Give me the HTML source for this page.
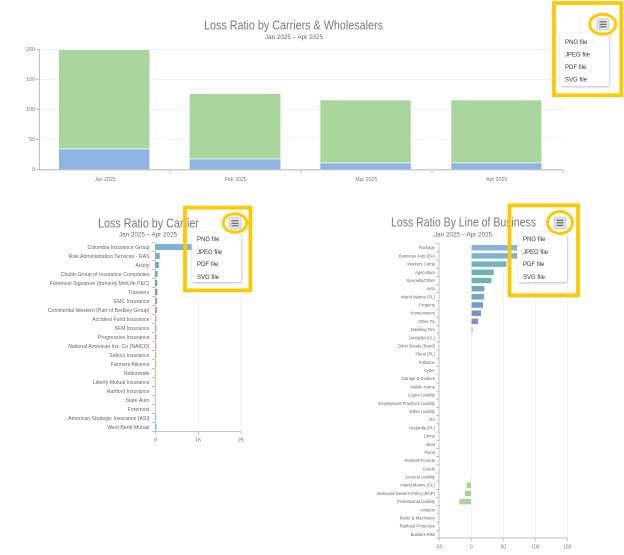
<!DOCTYPE html>
<html><head><meta charset="utf-8"><style>
html,body{margin:0;padding:0;background:#fff;}
svg{display:block;font-family:"Liberation Sans",sans-serif;}
</style></head><body>
<svg width="624" height="555" viewBox="0 0 624 555" xmlns="http://www.w3.org/2000/svg">
<rect width="624" height="555" fill="#fff"/>

<!-- ===== TOP CHART ===== -->
<text x="293.5" y="29.3" font-size="13" fill="#7a7a7a" text-anchor="middle" textLength="179" lengthAdjust="spacingAndGlyphs">Loss Ratio by Carriers &amp; Wholesalers</text>
<text x="294" y="39" font-size="6.5" fill="#666" text-anchor="middle" textLength="58" lengthAdjust="spacingAndGlyphs">Jan 2025 – Apr 2025</text>
<g stroke="#eeeeee" stroke-width="0.8">
<line x1="39" y1="49.3" x2="563" y2="49.3"/>
<line x1="39" y1="79.3" x2="563" y2="79.3"/>
<line x1="39" y1="109.3" x2="563" y2="109.3"/>
<line x1="39" y1="139.3" x2="563" y2="139.3"/>
</g>
<g font-size="5.3" fill="#777" text-anchor="end">
<text x="35" y="51.2">200</text>
<text x="35" y="81.2">150</text>
<text x="35" y="111.2">100</text>
<text x="35" y="141.2">50</text>
<text x="35" y="171.2">0</text>
</g>
<!-- bars -->
<g stroke="#fff" stroke-width="0.6">
<rect x="58.7" y="49.7" width="91" height="99.3" fill="#a9d69c"/>
<rect x="58.7" y="149" width="91" height="20.5" fill="#8db5e3"/>
<rect x="189.3" y="93.7" width="91.4" height="65.3" fill="#a9d69c"/>
<rect x="189.3" y="159" width="91.4" height="10.5" fill="#8db5e3"/>
<rect x="320" y="100" width="91" height="63" fill="#a9d69c"/>
<rect x="320" y="163" width="91" height="6.5" fill="#8db5e3"/>
<rect x="451" y="100" width="90.7" height="63" fill="#a9d69c"/>
<rect x="451" y="163" width="90.7" height="6.5" fill="#8db5e3"/>
</g>
<g stroke="#aaa" stroke-width="0.8">
<line x1="39.3" y1="49" x2="39.3" y2="169.6"/>
<line x1="36" y1="49.3" x2="39.3" y2="49.3"/>
<line x1="36" y1="79.3" x2="39.3" y2="79.3"/>
<line x1="36" y1="109.3" x2="39.3" y2="109.3"/>
<line x1="36" y1="139.3" x2="39.3" y2="139.3"/>
<line x1="36" y1="169.6" x2="39.3" y2="169.6"/>
<line x1="39" y1="169.8" x2="563" y2="169.8"/>
<line x1="170" y1="169.8" x2="170" y2="173"/>
<line x1="301" y1="169.8" x2="301" y2="173"/>
<line x1="432" y1="169.8" x2="432" y2="173"/>
<line x1="563" y1="169.8" x2="563" y2="173"/>
</g>
<g font-size="5.2" fill="#777" text-anchor="middle">
<text x="105" y="181">Jan 2025</text>
<text x="235.7" y="181">Feb 2025</text>
<text x="366.3" y="181">Mar 2025</text>
<text x="496.7" y="181">Apr 2025</text>
</g>

<!-- ===== BOTTOM LEFT CHART ===== -->
<text x="148.5" y="227.7" font-size="13" fill="#7a7a7a" text-anchor="middle" textLength="101" lengthAdjust="spacingAndGlyphs">Loss Ratio by Carrier</text>
<text x="148" y="236.6" font-size="6.5" fill="#666" text-anchor="middle" textLength="58" lengthAdjust="spacingAndGlyphs">Jan 2025 – Apr 2025</text>
<g stroke="#eeeeee" stroke-width="0.8">
<line x1="198.3" y1="242.5" x2="198.3" y2="431.7"/>
<line x1="241" y1="242.5" x2="241" y2="431.7"/>
</g>
<g font-size="5.2" fill="#666" text-anchor="end">
<text x="149.5" y="248.9">Columbia Insurance Group</text>
<text x="149.5" y="257.9">Risk Administration Services - RAS</text>
<text x="149.5" y="266.9">Acuity</text>
<text x="149.5" y="275.9">Chubb Group of Insurance Companies</text>
<text x="149.5" y="284.9">Foremost Signature (formerly MetLife P&amp;C)</text>
<text x="149.5" y="293.9">Travelers</text>
<text x="149.5" y="302.9">EMC Insurance</text>
<text x="149.5" y="311.9">Continental Western (Part of Berkley Group)</text>
<text x="149.5" y="320.9">Accident Fund Insurance</text>
<text x="149.5" y="329.9">SFM Insurance</text>
<text x="149.5" y="338.9">Progressive Insurance</text>
<text x="149.5" y="347.9">National American Ins. Co (NAICO)</text>
<text x="149.5" y="356.9">Safeco Insurance</text>
<text x="149.5" y="365.9">Farmers Alliance</text>
<text x="149.5" y="374.9">Nationwide</text>
<text x="149.5" y="383.9">Liberty Mutual Insurance</text>
<text x="149.5" y="392.9">Hartford Insurance</text>
<text x="149.5" y="401.9">State Auto</text>
<text x="149.5" y="410.9">Foremost</text>
<text x="149.5" y="419.9">American Strategic Insurance (ASI)</text>
<text x="149.5" y="428.9">West Bend Mutual</text>
</g>
<g>
<rect x="155.5" y="244" width="36" height="6" fill="#7db3d4"/>
<rect x="155.5" y="253" width="4.3" height="6" fill="#6cb8b6"/>
<rect x="155.5" y="262" width="3.3" height="6" fill="#6aaac6"/>
<rect x="155.5" y="271" width="2" height="6" fill="#6d9dd6"/>
<rect x="155.5" y="280" width="1.8" height="6" fill="#6f90da"/>
<rect x="155.5" y="289" width="1.8" height="6" fill="#7b88d8"/>
<rect x="155.5" y="298" width="1.6" height="6" fill="#a596d2"/>
<rect x="155.5" y="307" width="1.6" height="6" fill="#b592c8"/>
<rect x="155.5" y="316" width="1.4" height="6" fill="#e8bccd"/>
<rect x="155.5" y="325" width="1.4" height="6" fill="#f1bcc2"/>
<rect x="155.5" y="334" width="1.4" height="6" fill="#f2c0b6"/>
<rect x="155.5" y="343" width="1.4" height="6" fill="#f5cab2"/>
<rect x="155.5" y="352" width="1.3" height="6" fill="#f7d5b2"/>
<rect x="155.5" y="361" width="1.3" height="6" fill="#f7deb4"/>
<rect x="155.5" y="370" width="1.1" height="6" fill="#f5edcc"/>
<rect x="155.5" y="379" width="1.1" height="6" fill="#f3f0d4"/>
<rect x="155.5" y="388" width="0.6" height="6" fill="#e6efe0"/>
<rect x="155.5" y="397" width="0.6" height="6" fill="#dfeaf0"/>
<rect x="155.5" y="406" width="0.4" height="6" fill="#d8e6f0"/>
<rect x="155.5" y="415" width="1.1" height="6" fill="#c5dcee"/>
<rect x="155.5" y="424" width="1.3" height="6" fill="#a8c8ea"/>
</g>
<g stroke="#aaa" stroke-width="0.7">
<line x1="155.2" y1="242.5" x2="155.2" y2="431.7"/>
<line x1="152" y1="242.5" x2="155.2" y2="242.5"/><line x1="152" y1="251.5" x2="155.2" y2="251.5"/><line x1="152" y1="260.5" x2="155.2" y2="260.5"/><line x1="152" y1="269.5" x2="155.2" y2="269.5"/><line x1="152" y1="278.5" x2="155.2" y2="278.5"/><line x1="152" y1="287.5" x2="155.2" y2="287.5"/><line x1="152" y1="296.5" x2="155.2" y2="296.5"/><line x1="152" y1="305.5" x2="155.2" y2="305.5"/><line x1="152" y1="314.5" x2="155.2" y2="314.5"/><line x1="152" y1="323.5" x2="155.2" y2="323.5"/><line x1="152" y1="332.5" x2="155.2" y2="332.5"/><line x1="152" y1="341.5" x2="155.2" y2="341.5"/><line x1="152" y1="350.5" x2="155.2" y2="350.5"/><line x1="152" y1="359.5" x2="155.2" y2="359.5"/><line x1="152" y1="368.5" x2="155.2" y2="368.5"/><line x1="152" y1="377.5" x2="155.2" y2="377.5"/><line x1="152" y1="386.5" x2="155.2" y2="386.5"/><line x1="152" y1="395.5" x2="155.2" y2="395.5"/><line x1="152" y1="404.5" x2="155.2" y2="404.5"/><line x1="152" y1="413.5" x2="155.2" y2="413.5"/><line x1="152" y1="422.5" x2="155.2" y2="422.5"/><line x1="152" y1="431.5" x2="155.2" y2="431.5"/>
<line x1="155.2" y1="431.7" x2="241" y2="431.7"/>
<line x1="155.2" y1="431.7" x2="155.2" y2="434.5"/>
<line x1="198.3" y1="431.7" x2="198.3" y2="434.5"/>
<line x1="241" y1="431.7" x2="241" y2="434.5"/>
</g>
<g font-size="5.2" fill="#777" text-anchor="middle">
<text x="155.5" y="441.5">0</text>
<text x="198.3" y="441.5">1K</text>
<text x="241" y="441.5">2K</text>
</g>

<!-- ===== BOTTOM RIGHT CHART ===== -->
<text x="463.5" y="226.7" font-size="13" fill="#7a7a7a" text-anchor="middle" textLength="145" lengthAdjust="spacingAndGlyphs">Loss Ratio By Line of Business</text>
<text x="463" y="236.6" font-size="6.5" fill="#666" text-anchor="middle" textLength="58" lengthAdjust="spacingAndGlyphs">Jan 2025 – Apr 2025</text>
<g stroke="#eeeeee" stroke-width="0.8">
<line x1="471.3" y1="243.6" x2="471.3" y2="538"/>
<line x1="503.3" y1="243.6" x2="503.3" y2="538"/>
<line x1="535.3" y1="243.6" x2="535.3" y2="538"/>
<line x1="567.3" y1="243.6" x2="567.3" y2="538"/>
</g>
<g font-size="4.2" fill="#666" text-anchor="end">
<text x="435" y="249.2">Package</text>
<text x="435" y="257.4">Business Auto (BA)</text>
<text x="435" y="265.6">Workers Comp</text>
<text x="435" y="273.8">Agriculture</text>
<text x="435" y="282.0">Specialty/Other</text>
<text x="435" y="290.2">Auto</text>
<text x="435" y="298.3">Inland Marine (PL)</text>
<text x="435" y="306.5">Property</text>
<text x="435" y="314.7">Homeowners</text>
<text x="435" y="322.9">Other PL</text>
<text x="435" y="331.1">Dwelling Fire</text>
<text x="435" y="339.3">Umbrella (CL)</text>
<text x="435" y="347.5">Other Bonds (Bond)</text>
<text x="435" y="355.7">Flood (PL)</text>
<text x="435" y="363.9">Pollution</text>
<text x="435" y="372.1">Cyber</text>
<text x="435" y="380.2">Garage &amp; Dealers</text>
<text x="435" y="388.4">Mobile Home</text>
<text x="435" y="396.6">Liquor Liability</text>
<text x="435" y="404.8">Employment Practices Liability</text>
<text x="435" y="413.0">Other Liability</text>
<text x="435" y="421.2">RV</text>
<text x="435" y="429.4">Umbrella (PL)</text>
<text x="435" y="437.6">Crime</text>
<text x="435" y="445.8">Boat</text>
<text x="435" y="454.0">Flood</text>
<text x="435" y="462.1">Renters/Tenants</text>
<text x="435" y="470.3">Condo</text>
<text x="435" y="478.5">General Liability</text>
<text x="435" y="486.7">Inland Marine (CL)</text>
<text x="435" y="494.9">Business Owners Policy (BOP)</text>
<text x="435" y="503.1">Professional Liability</text>
<text x="435" y="511.3">Aviation</text>
<text x="435" y="519.5">Boiler &amp; Machinery</text>
<text x="435" y="527.7">Railroad Protective</text>
<text x="435" y="535.9">Builders Risk</text>
</g>
<g stroke="#fff" stroke-width="0.5">
<rect x="471.3" y="244.7" width="46" height="6" fill="#86b4dc"/>
<rect x="471.3" y="252.9" width="46" height="6" fill="#7eb3d5"/>
<rect x="471.3" y="261.1" width="35.4" height="6" fill="#70b2c2"/>
<rect x="471.3" y="269.3" width="22.7" height="6" fill="#69b2ae"/>
<rect x="471.3" y="277.5" width="20.4" height="6" fill="#70b0bc"/>
<rect x="471.3" y="285.7" width="13.4" height="6" fill="#6fa9c4"/>
<rect x="471.3" y="293.8" width="13" height="6" fill="#73a4ca"/>
<rect x="471.3" y="302" width="12" height="6" fill="#7499cc"/>
<rect x="471.3" y="310.2" width="10" height="6" fill="#7b90cd"/>
<rect x="471.3" y="318.4" width="7" height="6" fill="#7e8fd2"/>
<rect x="471.3" y="326.6" width="1.5" height="6" fill="#97a2de"/>
<rect x="470.2" y="474" width="1.1" height="6" fill="#d8e7aa"/>
<rect x="466.3" y="482.2" width="5" height="6" fill="#a9d490"/>
<rect x="464.7" y="490.4" width="6.6" height="6" fill="#a6d495"/>
<rect x="459" y="498.6" width="12.3" height="6" fill="#a7d69b"/>
</g>
<g stroke="#aaa" stroke-width="0.7">
<line x1="439" y1="243.6" x2="439" y2="538"/>
<line x1="436" y1="243.6" x2="439" y2="243.6"/><line x1="436" y1="251.8" x2="439" y2="251.8"/><line x1="436" y1="260" x2="439" y2="260"/><line x1="436" y1="268.2" x2="439" y2="268.2"/><line x1="436" y1="276.4" x2="439" y2="276.4"/><line x1="436" y1="284.6" x2="439" y2="284.6"/><line x1="436" y1="292.8" x2="439" y2="292.8"/><line x1="436" y1="301" x2="439" y2="301"/><line x1="436" y1="309.1" x2="439" y2="309.1"/><line x1="436" y1="317.3" x2="439" y2="317.3"/><line x1="436" y1="325.5" x2="439" y2="325.5"/><line x1="436" y1="333.7" x2="439" y2="333.7"/><line x1="436" y1="341.9" x2="439" y2="341.9"/><line x1="436" y1="350.1" x2="439" y2="350.1"/><line x1="436" y1="358.3" x2="439" y2="358.3"/><line x1="436" y1="366.5" x2="439" y2="366.5"/><line x1="436" y1="374.7" x2="439" y2="374.7"/><line x1="436" y1="382.9" x2="439" y2="382.9"/><line x1="436" y1="391" x2="439" y2="391"/><line x1="436" y1="399.2" x2="439" y2="399.2"/><line x1="436" y1="407.4" x2="439" y2="407.4"/><line x1="436" y1="415.6" x2="439" y2="415.6"/><line x1="436" y1="423.8" x2="439" y2="423.8"/><line x1="436" y1="432" x2="439" y2="432"/><line x1="436" y1="440.2" x2="439" y2="440.2"/><line x1="436" y1="448.4" x2="439" y2="448.4"/><line x1="436" y1="456.6" x2="439" y2="456.6"/><line x1="436" y1="464.8" x2="439" y2="464.8"/><line x1="436" y1="472.9" x2="439" y2="472.9"/><line x1="436" y1="481.1" x2="439" y2="481.1"/><line x1="436" y1="489.3" x2="439" y2="489.3"/><line x1="436" y1="497.5" x2="439" y2="497.5"/><line x1="436" y1="505.7" x2="439" y2="505.7"/><line x1="436" y1="513.9" x2="439" y2="513.9"/><line x1="436" y1="522.1" x2="439" y2="522.1"/><line x1="436" y1="530.3" x2="439" y2="530.3"/><line x1="436" y1="538" x2="439" y2="538"/>
<line x1="439" y1="538" x2="567.3" y2="538"/>
<line x1="439" y1="538" x2="439" y2="541"/>
<line x1="471.3" y1="538" x2="471.3" y2="541"/>
<line x1="503.3" y1="538" x2="503.3" y2="541"/>
<line x1="535.3" y1="538" x2="535.3" y2="541"/>
<line x1="567.3" y1="538" x2="567.3" y2="541"/>
</g>
<g font-size="5" fill="#777" text-anchor="middle">
<text x="439" y="548.5">-50</text>
<text x="471.3" y="548.5">0</text>
<text x="503.3" y="548.5">50</text>
<text x="535.3" y="548.5">100</text>
<text x="567.3" y="548.5">150</text>
</g>

<!-- ===== MENUS & HIGHLIGHTS ===== -->
<defs>
<filter id="sh" x="-20%" y="-20%" width="140%" height="140%">
<feDropShadow dx="0.5" dy="1" stdDeviation="1.2" flood-color="#000" flood-opacity="0.25"/>
</filter>
</defs>

<!-- top -->
<rect x="560" y="33" width="49" height="53" rx="2" fill="#fff" filter="url(#sh)"/>
<g font-size="6" fill="#333">
<text x="565" y="44.2">PNG file</text>
<text x="565" y="56.5">JPEG file</text>
<text x="565" y="69">PDF file</text>
<text x="565" y="81.3">SVG file</text>
</g>
<rect x="597" y="18.5" width="12" height="11.5" rx="2" fill="#e2e2e2" stroke="#b8b8b8" stroke-width="0.6"/>
<g stroke="#555" stroke-width="1"><line x1="599.5" y1="21.8" x2="606.5" y2="21.8"/><line x1="599.5" y1="24.3" x2="606.5" y2="24.3"/><line x1="599.5" y1="26.8" x2="606.5" y2="26.8"/></g>
<ellipse cx="602.7" cy="24.3" rx="13" ry="10" fill="none" stroke="#FFC800" stroke-width="3"/>
<rect x="554" y="3" width="67.3" height="92.3" fill="none" stroke="#FFC800" stroke-width="3.8"/>

<!-- bottom left -->
<rect x="192" y="232" width="49" height="50" rx="2" fill="#fff" filter="url(#sh)"/>
<g font-size="6" fill="#333">
<text x="197" y="241.2">PNG file</text>
<text x="197" y="254">JPEG file</text>
<text x="197" y="266.2">PDF file</text>
<text x="197" y="279">SVG file</text>
</g>
<rect x="229" y="217.5" width="12" height="11.5" rx="2" fill="#e2e2e2" stroke="#b8b8b8" stroke-width="0.6"/>
<g stroke="#555" stroke-width="1"><line x1="231.5" y1="220.8" x2="238.5" y2="220.8"/><line x1="231.5" y1="223.3" x2="238.5" y2="223.3"/><line x1="231.5" y1="225.8" x2="238.5" y2="225.8"/></g>
<ellipse cx="235" cy="223" rx="11.8" ry="9.2" fill="none" stroke="#FFC800" stroke-width="3"/>
<rect x="185" y="207.6" width="65.4" height="82.8" fill="none" stroke="#FFC800" stroke-width="3.8"/>

<!-- bottom right -->
<rect x="518" y="232" width="49" height="50" rx="2" fill="#fff" filter="url(#sh)"/>
<g font-size="6" fill="#333">
<text x="523" y="241.2">PNG file</text>
<text x="523" y="254">JPEG file</text>
<text x="523" y="266.2">PDF file</text>
<text x="523" y="279">SVG file</text>
</g>
<rect x="554" y="217" width="12" height="11.5" rx="2" fill="#e2e2e2" stroke="#b8b8b8" stroke-width="0.6"/>
<g stroke="#555" stroke-width="1"><line x1="556.5" y1="220.3" x2="563.5" y2="220.3"/><line x1="556.5" y1="222.8" x2="563.5" y2="222.8"/><line x1="556.5" y1="225.3" x2="563.5" y2="225.3"/></g>
<ellipse cx="560" cy="222.5" rx="12.5" ry="11" fill="none" stroke="#FFC800" stroke-width="3"/>
<rect x="509.5" y="205.3" width="68.5" height="90" fill="none" stroke="#FFC800" stroke-width="3.8"/>
</svg>
</body></html>
